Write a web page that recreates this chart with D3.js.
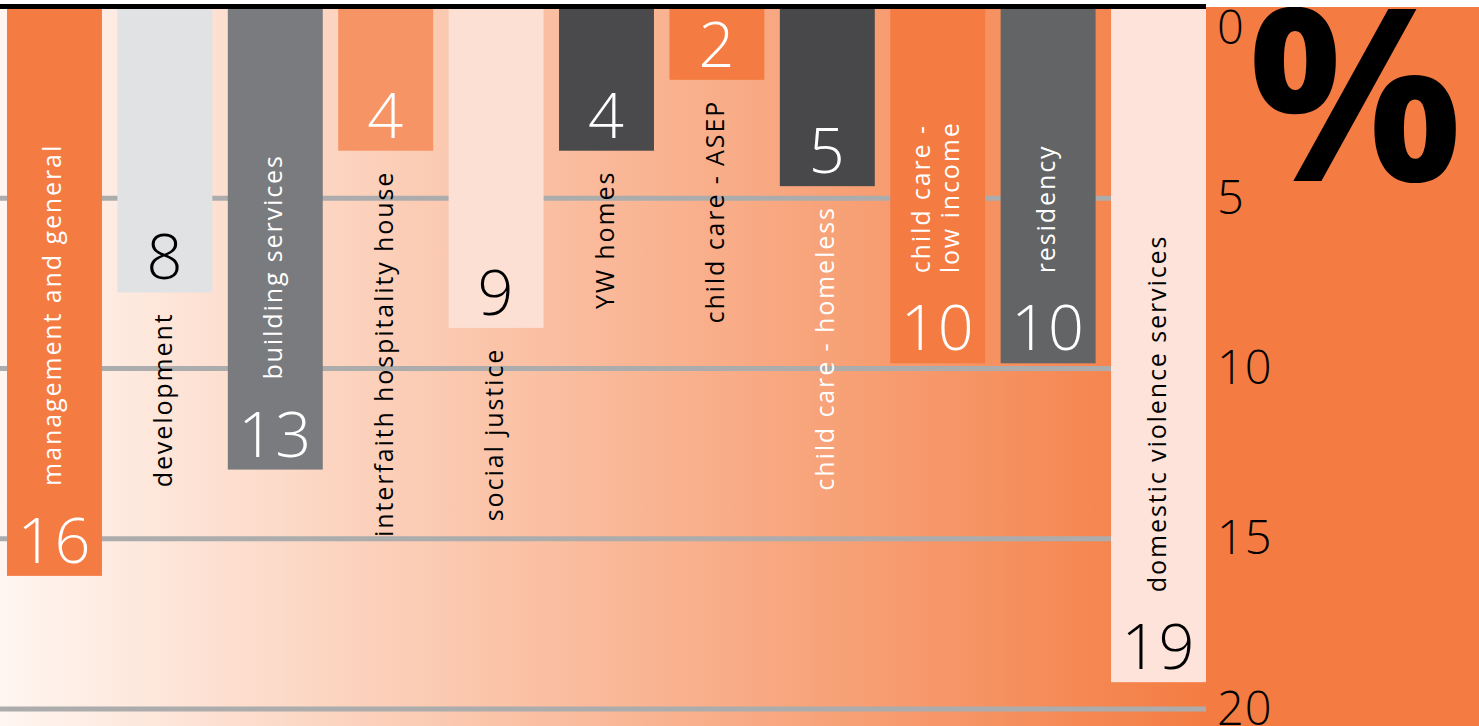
<!DOCTYPE html>
<html>
<head>
<meta charset="utf-8">
<script src="https://cdn.jsdelivr.net/npm/d3@7"></script>
<style>
  html, body { margin: 0; padding: 0; background: #fff; overflow: hidden; }
  text { font-family: "Open Sans", sans-serif; }
</style>
</head>
<body>
<div id="chart-area"></div>
<script>
const categories = [
    'management and general', 'development', 'building services',
    'interfaith hospitality house', 'social justice', 'YW homes',
    'child care - ASEP', 'child care - homeless', 'child care -\nlow income',
    'residency', 'domestic violence services'
]
const values = [16, 8, 13, 4, 9, 4, 2, 5, 10, 10, 19]
const yTicks = [0, 5, 10, 15, 20]

// styling per bar
const barColors = ['#f47c43', '#e1e2e3', '#7a7b7e', '#f69465', '#fde0d4', '#4a4a4c',
    '#f47c43', '#48484a', '#f47c43', '#636466', '#fde3d9']
const numberColors = ['#fff', '#000', '#fff', '#fff', '#000', '#fff', '#fff', '#fff', '#fff', '#fff', '#000']
const labelColors = ['#fff', '#000', '#fff', '#000', '#000', '#000', '#000', '#fff', '#fff', '#fff', '#000']

const W = 1479
const H = 726
const plotRight = 1206

const svg = d3.select('#chart-area').append('svg')
    .attr('width', W)
    .attr('height', H)

const defs = svg.append('defs')
const grad = defs.append('linearGradient')
    .attr('id', 'bg')
    .attr('gradientUnits', 'userSpaceOnUse')
    .attr('x1', 0).attr('x2', plotRight).attr('y1', 0).attr('y2', 0)
grad.append('stop').attr('offset', 0).attr('stop-color', '#fff6f1')
grad.append('stop').attr('offset', 1).attr('stop-color', '#f47c42')

defs.append('clipPath').attr('id', 'panel-clip')
    .append('rect')
    .attr('x', plotRight).attr('y', 7)
    .attr('width', W - plotRight).attr('height', H - 7)

const xScale = d3.scaleBand()
    .domain(categories)
    .range([7, plotRight])
    .paddingInner(0.14)
    .paddingOuter(0)

// bars hang from the top line
const yScale = d3.scaleLinear()
    .domain([0, 20])
    .range([9, 717.6])

// the printed axis sits a bit lower than the bars' scale
const yAxisScale = d3.scaleLinear()
    .domain([0, 20])
    .range([28, 709])

// background
svg.append('rect')
    .attr('x', 0).attr('y', 0)
    .attr('width', plotRight).attr('height', H)
    .attr('fill', 'url(#bg)')

// gridlines
svg.append('g')
    .selectAll('line')
    .data(yTicks.filter(t => t > 0))
    .enter()
    .append('line')
    .attr('x1', 0)
    .attr('x2', plotRight)
    .attr('y1', d => yAxisScale(d))
    .attr('y2', d => yAxisScale(d))
    .attr('stroke', '#acacac')
    .attr('stroke-width', 5)

const data = categories.map((c, i) => ({ cat: c, value: values[i], i: i }))

const g = svg.append('g')

g.selectAll('rect.bar')
    .data(data)
    .enter()
    .append('rect')
    .attr('class', 'bar')
    .attr('x', d => xScale(d.cat))
    .attr('y', yScale(0))
    .attr('width', xScale.bandwidth())
    .attr('height', d => yScale(d.value) - yScale(0))
    .attr('fill', d => barColors[d.i])

// value numbers at the bottom of each bar
g.selectAll('text.value')
    .data(data)
    .enter()
    .append('text')
    .attr('class', 'value')
    .attr('x', d => xScale(d.cat) + xScale.bandwidth() / 2)
    .attr('y', d => yScale(d.value) - 13)
    .attr('text-anchor', 'middle')
    .attr('font-size', '63px')
    .attr('font-weight', 300)
    .attr('letter-spacing', '1px')
    .attr('fill', d => numberColors[d.i])
    .text(d => d.value)

// category labels, rotated; inside the bar when it is tall enough
const labels = g.selectAll('text.cat')
    .data(data)
    .enter()
    .append('text')
    .attr('class', 'cat')
    .attr('transform', d => {
        const cx = xScale(d.cat) + xScale.bandwidth() / 2
        const cy = d.value >= 10 ? yScale(d.value) - 90 : yScale(d.value) + 20
        return `translate(${cx}, ${cy}) rotate(-90)`
    })
    .attr('text-anchor', d => d.value >= 10 ? 'start' : 'end')
    .attr('font-size', '25px')
    .attr('letter-spacing', '1.9px')
    .attr('fill', d => labelColors[d.i])

labels.each(function (d) {
    const lines = d.cat.split('\n')
    const sel = d3.select(this)
    lines.forEach((line, k) => {
        const offset = (k - (lines.length - 1) / 2) * 29 + 7
        sel.append('tspan')
            .attr('x', 0)
            .attr('y', offset)
            .text(line)
    })
})

// right panel
svg.append('rect')
    .attr('x', plotRight).attr('y', 7)
    .attr('width', W - plotRight).attr('height', H - 7)
    .attr('fill', '#f47b42')

svg.append('text')
    .attr('clip-path', 'url(#panel-clip)')
    .attr('x', 1355)
    .attr('y', 181)
    .attr('text-anchor', 'middle')
    .attr('font-family', '"DejaVu Sans", sans-serif')
    .attr('font-weight', 'bold')
    .attr('font-size', '240px')
    .attr('fill', '#000')
    .text('%')

const yAxisGroup = svg.append('g')
    .attr('transform', `translate(${plotRight}, 0)`)
    .call(d3.axisRight(yAxisScale).tickValues(yTicks).tickSize(0).tickPadding(11))

yAxisGroup.select('.domain').remove()
yAxisGroup.selectAll('text')
    .attr('font-family', '"Open Sans", sans-serif')
    .attr('font-size', '47px')
    .attr('font-weight', 300)
    .attr('letter-spacing', '1px')
    .attr('fill', '#000')

// top strip and heavy rule
svg.append('rect')
    .attr('x', 0).attr('y', 0)
    .attr('width', W).attr('height', 4)
    .attr('fill', '#fff')
svg.append('rect')
    .attr('x', 0).attr('y', 4)
    .attr('width', plotRight).attr('height', 5)
    .attr('fill', '#000')
</script>
</body>
</html>
